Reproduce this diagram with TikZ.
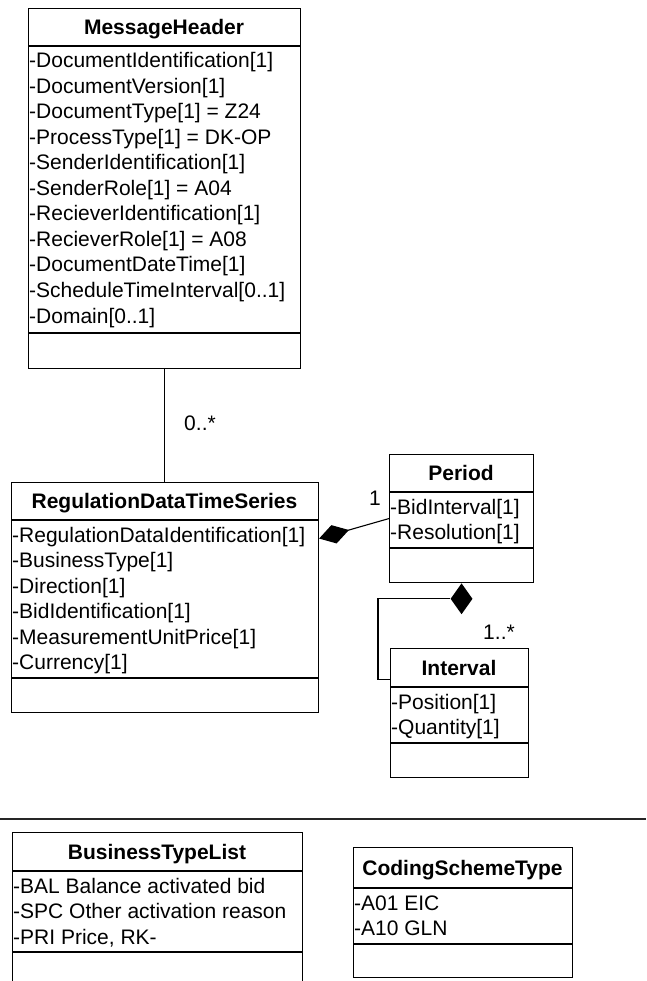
\documentclass[tikz,border=0pt]{standalone}
\usepackage{fontspec}
\setmainfont{Liberation Sans}
\usetikzlibrary{arrows.meta,shapes.geometric}
\def\UMLrowsep{25.5}
\tikzset{
  classbox/.style={draw, line width=1.1pt, inner sep=0pt, anchor=north west},
  sepline/.style={line width=1.1pt},
  titletext/.style={font=\bfseries\fontsize{21}{25}\selectfont, text height=15pt, text depth=0pt, inner sep=0pt, anchor=center},
  attrtext/.style={font=\fontsize{21}{25}\selectfont, anchor=base west, inner sep=0pt},
  lbl/.style={font=\fontsize{21}{25}\selectfont, anchor=base, inner sep=0pt},
  assoc/.style={line width=1.1pt},
  compo/.style={line width=1.1pt, -{Diamond[length=31pt,width=19pt]}},
}
% #1 name, #2 x1, #3 y1, #4 x2, #5 y2, #6 title separator, #7 attribute separator, #8 title, #9 attributes
\newcommand\UMLclass[9]{%
  \node[classbox, minimum width={#4-#2}, minimum height={#5-#3}] (#1) at (#2,#3) {};
  \draw[sepline] (#2,#6) -- (#4,#6);
  \draw[sepline] (#2,#7) -- (#4,#7);
  \node[titletext] (#1-t) at ({(#2+#4)/2},{(#3+#6)/2}) {#8};
  \foreach \a [count=\i] in {#9} {
    \node[attrtext] (#1-\i) at ({#2+1},{#6+22+(\i-1)*\UMLrowsep}) {\a};
  }%
}
\begin{document}
\begin{tikzpicture}[x=1pt,y=-1pt]
\clip (0,0) rectangle (646,981);
\fill[white] (0,0) rectangle (646,981);

\UMLclass{mh}{28}{8}{300}{368}{46}{333}{MessageHeader}{%
  {-DocumentIdentification[1]},
  {-DocumentVersion[1]},
  {-DocumentType[1] = Z24},
  {-ProcessType[1] = DK-OP},
  {-SenderIdentification[1]},
  {-SenderRole[1] = A04},
  {-RecieverIdentification[1]},
  {-RecieverRole[1] = A08},
  {-DocumentDateTime[1]},
  {-ScheduleTimeInterval[0..1]},
  {-Domain[0..1]}}

\UMLclass{rdts}{11}{482}{318}{712}{520}{678}{RegulationDataTimeSeries}{%
  {-RegulationDataIdentification[1]},
  {-BusinessType[1]},
  {-Direction[1]},
  {-BidIdentification[1]},
  {-MeasurementUnitPrice[1]},
  {-Currency[1]}}

\UMLclass{per}{389}{454}{533}{582}{492}{548}{Period}{%
  {-BidInterval[1]},
  {-Resolution[1]}}

\UMLclass{int}{390}{648}{528}{777}{687}{743}{Interval}{%
  {-Position[1]},
  {-Quantity[1]}}

\UMLclass{btl}{12}{832}{302}{1000}{871}{952}{BusinessTypeList}{%
  {-BAL Balance activated bid},
  {-SPC Other activation reason},
  {-PRI Price, RK-}}

\UMLclass{cst}{353}{847}{572}{977}{888}{944}{CodingSchemeType}{%
  {-A01 EIC},
  {-A10 GLN}}

% association MessageHeader -- RegulationDataTimeSeries
\draw[assoc] (mh.south) -- (mh.south |- rdts.north);
\node[lbl] (m1) at (200,430) {0..*};

% composition Period -> RegulationDataTimeSeries
\draw[compo] (per.west) -- ([yshift=59pt]rdts.east);
\node[lbl] (m2) at (375,505) {1};

% composition Interval -> Period
\node[diamond, fill=black, minimum width=22pt, minimum height=31pt, inner sep=0pt, anchor=north] (dia) at (per.south) {};
\draw[assoc] (dia.west) -| ([xshift=-12pt,yshift=33.5pt]int.west) -- ([yshift=33.5pt]int.west);
\node[lbl] (m3) at (499,639) {1..*};

% separator line
\draw[line width=1.3pt, black!85] (0,819) -- (646,819);
\end{tikzpicture}
\end{document}
